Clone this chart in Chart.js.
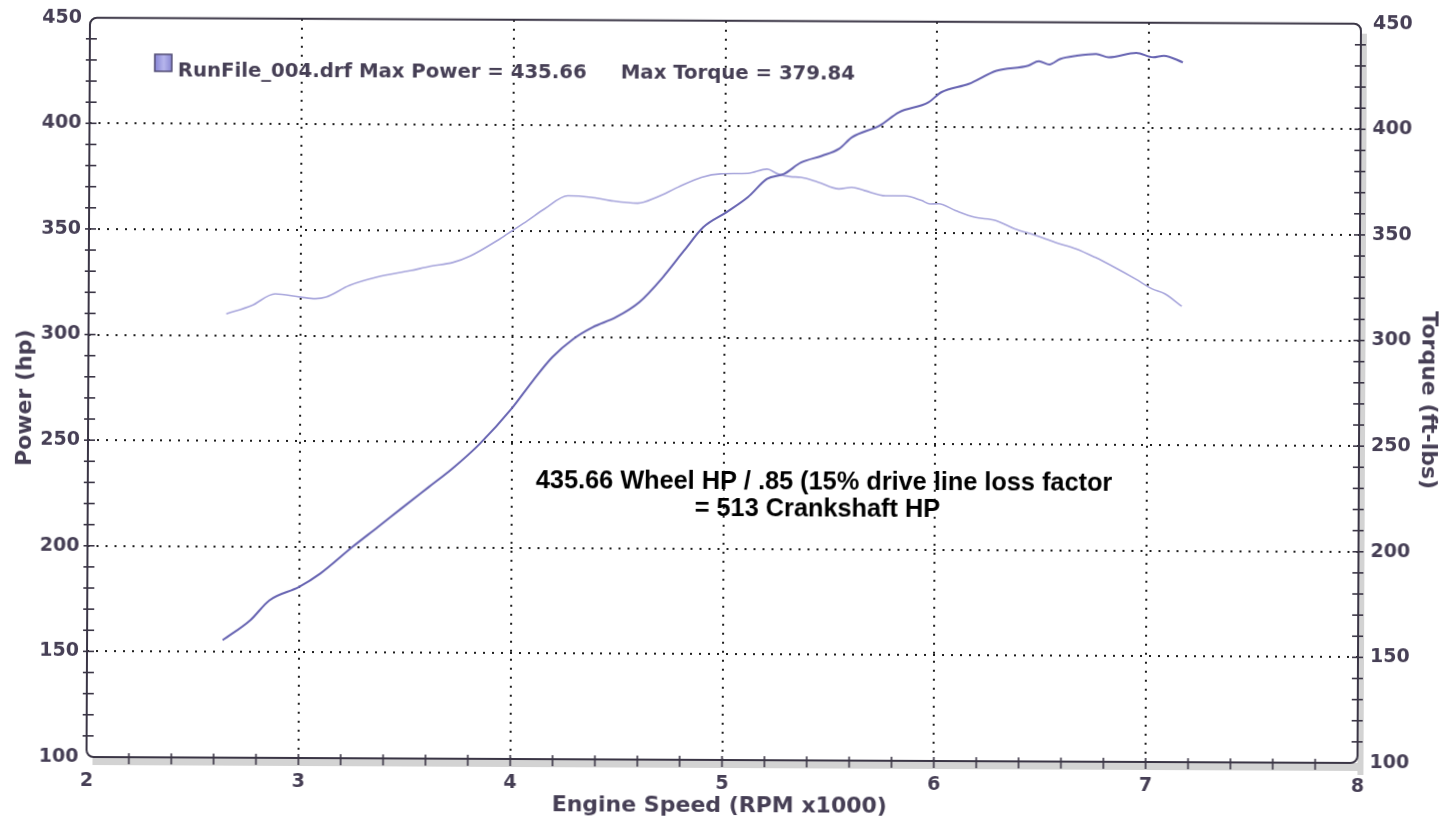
<!DOCTYPE html>
<html>
<head>
<meta charset="utf-8">
<title>Dyno run</title>
<script src="https://cdn.jsdelivr.net/npm/chart.js@4.4.0/dist/chart.umd.min.js"></script>
<style>
  html, body { margin: 0; padding: 0; background: #fff; overflow: hidden; }
  /* the source sheet was scanned a little crooked, so tilt the whole chart the same way */
  #wrap { position: absolute; left: 0; top: 0; width: 1443px; height: 822px;
          transform: rotate(0.27deg); transform-origin: 90px 17px; }
</style>
</head>
<body>
<div id="wrap"><canvas id="dyno" width="1443" height="822"></canvas></div>
<script>
/* ---- DATA ---- */
const POWER_RPM = [2.64, 2.77, 2.86, 3.00, 3.10, 3.25, 3.37, 3.48, 3.61, 3.72, 3.85, 4.00, 4.10, 4.19, 4.29,
                   4.38, 4.49, 4.60, 4.71, 4.81, 4.90, 5.01, 5.11, 5.20, 5.28, 5.36, 5.46, 5.54, 5.60, 5.73,
                   5.82, 5.96, 6.02, 6.15, 6.28, 6.43, 6.48, 6.53, 6.58, 6.66, 6.75, 6.81, 6.94, 7.02, 7.07, 7.16];
const POWER_HP  = [155.6, 165.1, 174.6, 181.0, 187.4, 200.0, 209.5, 218.3, 228.6, 237.3, 249.2, 266.0, 279.3, 290.3, 299.1,
                   304.6, 309.4, 316.6, 328.4, 341.1, 352.2, 359.4, 366.5, 375.2, 377.6, 383.0, 386.3, 389.7, 395.1, 400.7,
                   407.0, 411.8, 416.6, 420.6, 426.9, 429.4, 431.5, 430.0, 432.6, 434.2, 435.1, 433.5, 435.66, 433.6, 434.4, 431.3];

const TORQUE_RPM = [2.65, 2.77, 2.88, 3.00, 3.07, 3.12, 3.23, 3.36, 3.52, 3.61, 3.72, 3.80, 3.94, 4.00, 4.07,
                    4.15, 4.26, 4.37, 4.46, 4.59, 4.68, 4.78, 4.89, 4.98, 5.11, 5.20, 5.25, 5.31, 5.36, 5.44,
                    5.54, 5.60, 5.66, 5.76, 5.85, 5.93, 5.97, 6.01, 6.09, 6.18, 6.28, 6.37, 6.47, 6.56, 6.66,
                    6.75, 6.84, 6.94, 7.02, 7.08, 7.16];
const TORQUE_FT  = [310.1, 314.1, 319.7, 318.2, 317.5, 318.2, 323.8, 327.8, 331.0, 333.0, 335.0, 338.0, 346.2, 350.2, 354.9,
                    360.5, 366.8, 366.1, 364.6, 363.4, 366.3, 371.1, 375.8, 377.5, 377.8, 379.84, 377.6, 376.3, 376.0, 373.8,
                    370.6, 371.4, 369.9, 367.5, 367.5, 365.3, 363.7, 363.8, 360.6, 357.5, 356.0, 352.1, 349.0, 345.8, 342.8,
                    338.8, 334.2, 328.7, 324.0, 321.7, 315.8];

const X_MIN = 2, X_MAX = 8, X_STEP = 1, X_MINOR = 0.2;
const Y_MIN = 100, Y_MAX = 450, Y_STEP = 50, Y_MINOR = 10;

const LEGEND_TEXT = ['RunFile_004.drf Max Power = 435.66', 'Max Torque = 379.84'];
const NOTE_LINES = ['435.66 Wheel HP / .85 (15% drive line loss factor', '= 513 Crankshaft HP'];

/* ---- STYLE ---- */
const INK = '#463f55';
const FRAME = '#3a3545';
const POWER_COLOR = '#6764b2';
const TORQUE_COLOR = '#a8a6dc';
const FONT = "'DejaVu Sans', Verdana, sans-serif";

function gridColor(ctx) {
  const v = ctx.tick && ctx.tick.value;
  const scale = ctx.scale;
  return (v === scale.min || v === scale.max) ? 'rgba(0,0,0,0)' : '#1e1e1e';
}

function line(ctx, x1, y1, x2, y2) {
  ctx.beginPath(); ctx.moveTo(x1, y1); ctx.lineTo(x2, y2); ctx.stroke();
}

function roundRect(ctx, l, t, r, b, rad) {
  ctx.beginPath();
  ctx.moveTo(l + rad, t);
  ctx.arcTo(r, t, r, b, rad);
  ctx.arcTo(r, b, l, b, rad);
  ctx.arcTo(l, b, l, t, rad);
  ctx.arcTo(l, t, r, t, rad);
  ctx.closePath();
}

/* ---- frame, minor ticks, shadow and the free text of the sheet ---- */
const dynoSheet = {
  id: 'dynoSheet',
  beforeDatasetsDraw(chart) {
    const { ctx, chartArea: a } = chart;
    ctx.save();
    ctx.fillStyle = '#d3d3d3';
    ctx.fillRect(a.right, a.top + 10, 6, a.bottom - a.top + 2);
    ctx.fillRect(a.left + 6, a.bottom, a.right - a.left, 8);
    ctx.restore();
  },
  afterDatasetsDraw(chart) {
    const { ctx, chartArea: a, scales } = chart;
    ctx.save();
    ctx.strokeStyle = FRAME;
    ctx.lineWidth = 2;
    roundRect(ctx, a.left, a.top, a.right, a.bottom, 7);
    ctx.stroke();

    ctx.lineWidth = 1.6;
    for (let v = Y_MIN + Y_MINOR; v < Y_MAX; v += Y_MINOR) {
      const pl = scales.yPower.getPixelForValue(v);
      line(ctx, a.left - 4, pl, a.left + 7, pl);
      const pr = scales.yTorque.getPixelForValue(v);
      line(ctx, a.right - 6, pr, a.right + 5, pr);
    }
    const n = Math.round((X_MAX - X_MIN) / X_MINOR);
    for (let i = 1; i < n; i++) {
      const px = scales.x.getPixelForValue(X_MIN + i * X_MINOR);
      line(ctx, px, a.bottom - 4, px, a.bottom + 7);
    }
    ctx.restore();
  },
  afterDraw(chart) {
    const { ctx } = chart;
    ctx.save();

    // legend swatch + run summary
    const g = ctx.createLinearGradient(155, 0, 173, 0);
    g.addColorStop(0, '#8684d4');
    g.addColorStop(0.5, '#b6b5ec');
    g.addColorStop(1, '#8381d0');
    ctx.fillStyle = g;
    ctx.fillRect(155, 54, 17, 17);
    ctx.strokeStyle = '#4f4a72';
    ctx.lineWidth = 1.5;
    ctx.strokeRect(155, 54, 17, 17);

    ctx.fillStyle = INK;
    ctx.font = 'bold 19.7px ' + FONT;
    ctx.textAlign = 'left';
    ctx.textBaseline = 'alphabetic';
    ctx.fillText(LEGEND_TEXT[0], 178, 76);
    ctx.fillText(LEGEND_TEXT[1], 621, 76);

    // note in the middle of the plot
    ctx.fillStyle = '#000';
    ctx.font = "bold 25.3px 'Liberation Sans', Arial, sans-serif";
    ctx.fillText(NOTE_LINES[0], 538, 486);
    ctx.fillText(NOTE_LINES[1], 697, 513);

    // axis titles
    ctx.fillStyle = INK;
    ctx.font = 'bold 22px ' + FONT;
    ctx.textAlign = 'center';
    ctx.textBaseline = 'middle';
    ctx.fillText('Engine Speed (RPM x1000)', 723, 803);

    ctx.save();
    ctx.translate(27, 398);
    ctx.rotate(-Math.PI / 2);
    ctx.fillText('Power (hp)', 0, 0);
    ctx.restore();

    ctx.save();
    ctx.translate(1430, 394);
    ctx.rotate(Math.PI / 2);
    ctx.fillText('Torque (ft-lbs)', 0, 0);
    ctx.restore();

    ctx.restore();
  }
};

const tickFont = { family: FONT, size: 19, weight: 'bold' };
// small line height on the value axes so the top label does not push the plot down
const yTickFont = { family: FONT, size: 19, weight: 'bold', lineHeight: 0.6 };

new Chart(document.getElementById('dyno'), {
  type: 'line',
  data: {
    datasets: [
      {
        label: 'Power',
        data: POWER_RPM.map((r, i) => ({ x: r, y: POWER_HP[i] })),
        yAxisID: 'yPower',
        borderColor: POWER_COLOR,
        borderWidth: 2,
        pointRadius: 0,
        cubicInterpolationMode: 'monotone',
        fill: false
      },
      {
        label: 'Torque',
        data: TORQUE_RPM.map((r, i) => ({ x: r, y: TORQUE_FT[i] })),
        yAxisID: 'yTorque',
        borderColor: TORQUE_COLOR,
        borderWidth: 1.6,
        pointRadius: 0,
        cubicInterpolationMode: 'monotone',
        fill: false
      }
    ]
  },
  options: {
    responsive: false,
    devicePixelRatio: 1,
    animation: false,
    layout: { padding: { top: 17, left: 0, right: 0, bottom: 0 } },
    plugins: { legend: { display: false }, tooltip: { enabled: false } },
    scales: {
      x: {
        type: 'linear', min: X_MIN, max: X_MAX,
        ticks: { stepSize: X_STEP, font: tickFont, color: INK, padding: 13, autoSkip: false, maxRotation: 0 },
        grid: { color: gridColor, lineWidth: 2, drawTicks: false },
        border: { display: false, dash: [2, 7] },
        afterFit: s => { s.height = 65; }
      },
      yPower: {
        type: 'linear', position: 'left', min: Y_MIN, max: Y_MAX,
        ticks: { stepSize: Y_STEP, font: yTickFont, color: INK, padding: 8 },
        grid: { color: gridColor, lineWidth: 2, drawTicks: false },
        border: { display: false, dash: [2, 7] },
        afterFit: s => { s.width = 90; }
      },
      yTorque: {
        type: 'linear', position: 'right', min: Y_MIN, max: Y_MAX,
        ticks: { stepSize: Y_STEP, font: yTickFont, color: INK, padding: 12 },
        grid: { display: false, drawTicks: false },
        border: { display: false },
        afterFit: s => { s.width = 82; }
      }
    }
  },
  plugins: [dynoSheet]
});
</script>
</body>
</html>
